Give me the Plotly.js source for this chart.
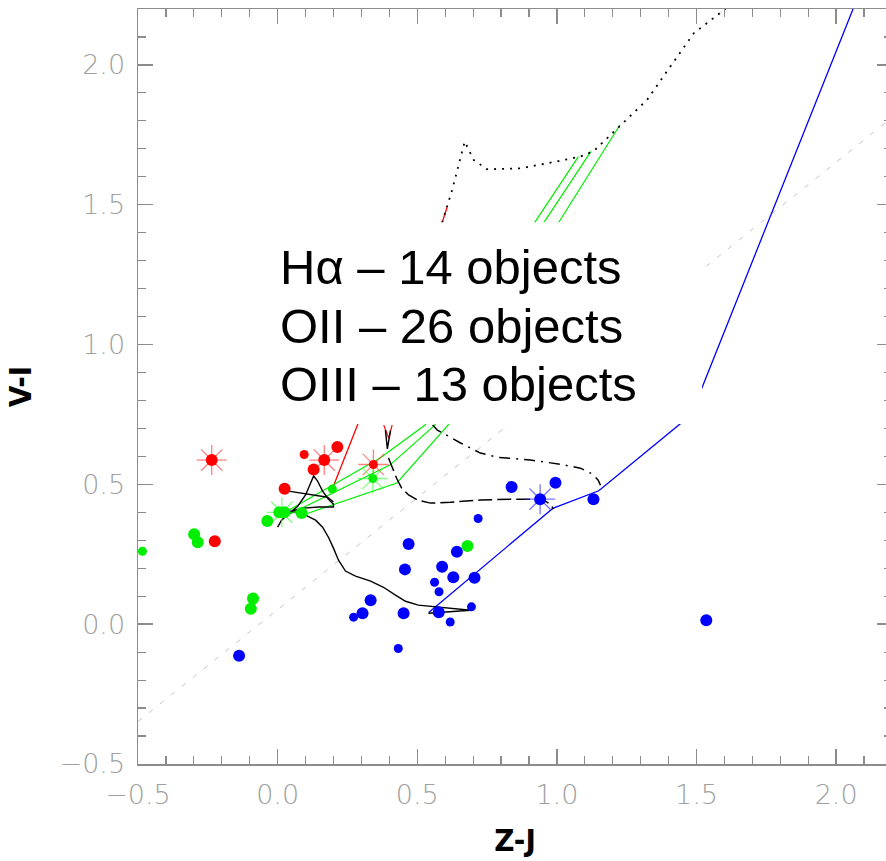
<!DOCTYPE html>
<html><head><meta charset="utf-8">
<script src="https://cdn.plot.ly/plotly-3.0.1.min.js"></script>
<style>html,body{margin:0;padding:0;overflow:hidden;background:#fff;}#plot{width:892px;height:861px;}</style>
</head><body><div id="plot"></div>
<script>
// ---- data (Z-J , V-I) ----
const redBigX = [-0.236, 0.167, 0.214, 0.129, 0.025, -0.225];
const redBigY = [0.587, 0.587, 0.634, 0.553, 0.484, 0.297];
const redSmallX = [0.095, 0.343];
const redSmallY = [0.607, 0.571];
const redStarX = [-0.236, 0.167, 0.343];
const redStarY = [0.587, 0.587, 0.571];

const greenBigX = [0.006, 0.024, 0.086, -0.037, -0.299, -0.286, -0.088, -0.096, 0.680];
const greenBigY = [0.400, 0.400, 0.398, 0.369, 0.322, 0.293, 0.092, 0.055, 0.280];
const greenSmallX = [0.196, 0.341, -0.484];
const greenSmallY = [0.483, 0.521, 0.261];
const greenStarX = [0.015, 0.341];
const greenStarY = [0.400, 0.521];

const blueBigX = [0.838, 0.995, 0.940, 1.131, 0.469, 0.642, 0.456, 0.589, 0.629, 0.705, 0.451, 0.577, 0.333, 0.304, 1.535, -0.138];
const blueBigY = [0.491, 0.506, 0.447, 0.447, 0.287, 0.259, 0.196, 0.205, 0.168, 0.166, 0.039, 0.043, 0.086, 0.039, 0.014, -0.113];
const blueSmallX = [0.718, 0.562, 0.578, 0.694, 0.618, 0.432, 0.272];
const blueSmallY = [0.378, 0.150, 0.116, 0.062, 0.008, -0.087, 0.025];
const blueStarX = [0.940];
const blueStarY = [0.447];

// reference / model tracks
const diagX = [-0.5, 2.2];
const diagY = [-0.348, 1.812];
const blueTrackX = [0.541, 0.985, 1.150, 1.481, 2.058, 2.064];
const blueTrackY = [0.042, 0.414, 0.477, 0.749, 2.194, 2.21];
const redTrackX = [0.190, 0.286, 0.589, 0.607];
const redTrackY = [0.469, 0.712, 1.436, 1.491];
const redVX = [0.380, 0.398, 0.410];
const redVY = [0.712, 0.665, 0.712];
const g1X = [0.023, 0.367, 0.528, 0.922, 1.077];
const g1Y = [0.398, 0.594, 0.712, 1.439, 1.672];
const g2X = [0.044, 0.402, 0.563, 0.955, 1.122];
const g2Y = [0.394, 0.569, 0.712, 1.439, 1.691];
const g3X = [0.080, 0.427, 0.610, 1.008, 1.226];
const g3Y = [0.387, 0.505, 0.712, 1.439, 1.786];
const solidX = [0.000, 0.014, 0.039, 0.072, 0.100, 0.118, 0.129, 0.143, 0.161, 0.182, 0.200, 0.200, 0.147, 0.093, 0.047, 0.018,
                0.057, 0.100, 0.136, 0.161, 0.182, 0.200, 0.218, 0.243, 0.279, 0.333, 0.379, 0.422, 0.458, 0.504, 0.583, 0.655, 0.691, 0.540];
const solidY = [0.347, 0.372, 0.394, 0.422, 0.462, 0.501, 0.530, 0.512, 0.476, 0.447, 0.429, 0.419, 0.419, 0.415, 0.404, 0.394,
                0.401, 0.390, 0.372, 0.347, 0.311, 0.272, 0.229, 0.190, 0.172, 0.154, 0.132, 0.104, 0.082, 0.068, 0.061, 0.054, 0.050, 0.039];
const solid2X = [0.039, 0.118, 0.179, 0.200];
const solid2Y = [0.476, 0.465, 0.454, 0.437];
const blackVX = [0.386, 0.393, 0.404];
const blackVY = [0.694, 0.627, 0.692];
const dashedX = [0.397, 0.411, 0.426, 0.444, 0.469, 0.501, 0.547, 0.619, 0.726, 0.834, 0.905, 0.959, 0.980, 0.987];
const dashedY = [0.594, 0.558, 0.522, 0.487, 0.462, 0.444, 0.433, 0.436, 0.444, 0.447, 0.447, 0.440, 0.426, 0.411];
const dashDotX = [0.555, 0.572, 0.605, 0.655, 0.726, 0.787, 0.905, 1.013, 1.084, 1.127, 1.148, 1.156];
const dashDotY = [0.712, 0.694, 0.676, 0.648, 0.612, 0.597, 0.587, 0.572, 0.558, 0.537, 0.515, 0.497];
const dottedX = [0.589, 0.625, 0.670, 0.702, 0.750, 0.869, 0.965, 1.084, 1.132, 1.227, 1.323, 1.406, 1.490, 1.591, 1.62];
const dottedY = [1.436, 1.553, 1.726, 1.660, 1.627, 1.630, 1.648, 1.672, 1.692, 1.782, 1.875, 1.994, 2.113, 2.191, 2.215];

const labelLines = ["Hα – 14 objects", "OII – 26 objects", "OIII – 13 objects"];
const labelY = [1.276, 1.068, 0.858];

function line(x, y, color, width, dash) {
  return {x: x, y: y, type: 'scatter', mode: 'lines', hoverinfo: 'skip',
          line: {color: color, width: width, dash: dash || 'solid'}};
}
function dots(x, y, color, size) {
  return {x: x, y: y, type: 'scatter', mode: 'markers', hoverinfo: 'skip',
          marker: {color: color, size: size, symbol: 'circle', line: {width: 0}}};
}
function stars(x, y, color) {
  return {x: x, y: y, type: 'scatter', mode: 'markers', hoverinfo: 'skip',
          marker: {color: color, size: 25, symbol: 'asterisk-open', line: {width: 1.3, color: color}}};
}

const traces = [
  line(diagX, diagY, '#c4c4c4', 1, '5px,9px'),
  line(blueTrackX, blueTrackY, '#0000ff', 1.3),
  line(redTrackX, redTrackY, '#ff0000', 1.3),
  line(redVX, redVY, '#ff0000', 1.2),
  line(g1X, g1Y, '#00ee00', 1.2),
  line(g2X, g2Y, '#00ee00', 1.2),
  line(g3X, g3Y, '#00ee00', 1.2),
  line(solidX, solidY, '#000000', 1.4),
  line(solid2X, solid2Y, '#000000', 1.4),
  line(blackVX, blackVY, '#000000', 1.4),
  line(dashedX, dashedY, '#000000', 1.5, '14px,5px'),
  line(dashDotX, dashDotY, '#000000', 1.5, '11px,6px,2px,6px'),
  line(dottedX, dottedY, '#000000', 1.8, '2px,6px'),
  stars(redStarX, redStarY, 'rgba(255,60,60,0.65)'),
  stars(greenStarX, greenStarY, 'rgba(60,255,60,0.65)'),
  stars(blueStarX, blueStarY, 'rgba(60,60,255,0.7)'),
  dots(redBigX, redBigY, '#ff0000', 12),
  dots(redSmallX, redSmallY, '#ff0000', 9),
  dots(greenBigX, greenBigY, '#00ee00', 12),
  dots(greenSmallX, greenSmallY, '#00ee00', 9),
  dots(blueBigX, blueBigY, '#0000ff', 12),
  dots(blueSmallX, blueSmallY, '#0000ff', 9)
];

const axisCommon = {
  showgrid: false, zeroline: false, showline: true, linecolor: '#8c8c8c', linewidth: 1.5,
  mirror: 'allticks', ticks: 'inside', ticklen: 15, tickwidth: 1.5, tickcolor: '#8c8c8c',
  dtick: 0.5, tickformat: '.1f',
  minor: {dtick: 0.1, ticks: 'inside', ticklen: 8, tickwidth: 1.2, tickcolor: '#8c8c8c', showgrid: false},
  tickfont: {family: 'DejaVu Sans', size: 27, color: '#a0a0a0', weight: 200}
};
const titleFont = {family: "'DejaVu Sans Condensed', 'Liberation Sans', Arial, sans-serif", size: 31, color: '#000', weight: 'bold'};

const layout = {
  width: 892, height: 861,
  margin: {l: 138, r: 0, t: 9, b: 97},
  paper_bgcolor: '#fff', plot_bgcolor: '#fff',
  showlegend: false,
  xaxis: Object.assign({}, axisCommon, {
    range: [-0.5, 2.2], tick0: 0,
    ticklabelstandoff: 6,
    title: {text: 'Z-J', standoff: 20, font: titleFont}
  }),
  yaxis: Object.assign({}, axisCommon, {
    range: [-0.5, 2.2], tick0: 0,
    ticklabelstandoff: 6,
    title: {text: 'V-I', standoff: 18, font: titleFont}
  }),
  shapes: [{type: 'rect', xref: 'x', yref: 'y', x0: -0.056, x1: 1.520, y0: 0.716, y1: 1.437,
            fillcolor: '#ffffff', line: {width: 0}, layer: 'above'}],
  annotations: labelLines.map((t, i) => ({
    xref: 'x', yref: 'y', x: 0.0, y: labelY[i], xanchor: 'left', yanchor: 'middle',
    align: 'left', showarrow: false, text: t,
    font: {family: 'Liberation Sans', size: 49, color: '#000'}
  }))
};

Plotly.newPlot('plot', traces, layout, {staticPlot: true, displayModeBar: false});
</script></body></html>
